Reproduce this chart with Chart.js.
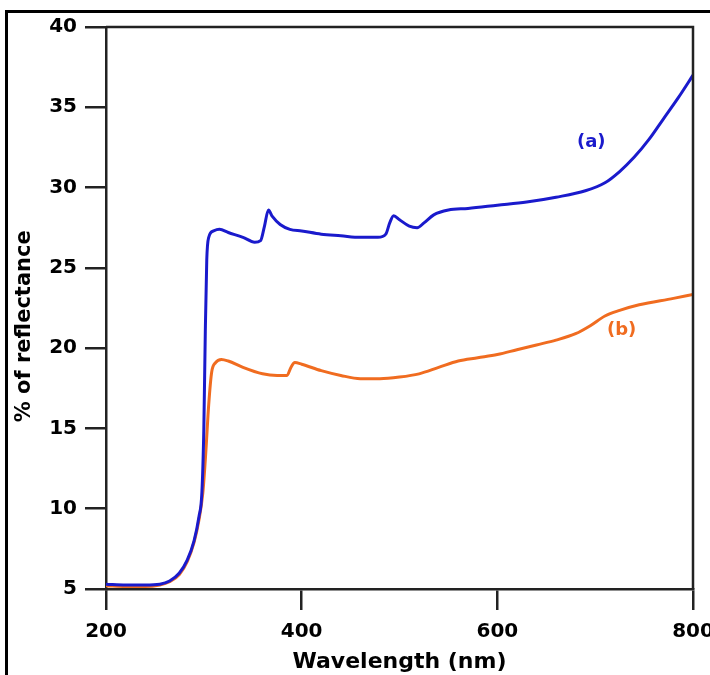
<!DOCTYPE html>
<html>
<head>
<meta charset="utf-8">
<script src="https://cdn.jsdelivr.net/npm/chart.js@4.4.1/dist/chart.umd.min.js"></script>
<style>
  html, body { margin: 0; padding: 0; background: #fff; }
  canvas { display: block; }
</style>
</head>
<body>
<canvas id="reflectance-chart" width="710" height="675"></canvas>
<script>
// sample (a)
const waveA = [200, 220, 240, 255, 265, 275, 283, 290, 295, 298, 300, 301.5, 303, 305, 310, 316, 325, 340, 352, 358, 362, 366, 370, 378, 388, 400, 420, 440, 460, 478, 486, 490, 494, 500, 510, 518, 525, 535, 550, 570, 600, 630, 660, 690, 710, 725, 740, 755, 770, 785, 800];
const reflA = [5.3, 5.25, 5.25, 5.3, 5.5, 6.0, 6.8, 8.0, 9.5, 11, 15, 21, 25.5, 26.9, 27.3, 27.4, 27.2, 26.9, 26.6, 26.7, 27.6, 28.6, 28.2, 27.7, 27.4, 27.3, 27.1, 27.0, 26.9, 26.9, 27.1, 27.8, 28.25, 28.0, 27.6, 27.5, 27.8, 28.3, 28.6, 28.7, 28.9, 29.1, 29.4, 29.8, 30.3, 31.0, 31.9, 33.0, 34.3, 35.6, 37.0];

// sample (b)
const waveB = [200, 220, 240, 255, 265, 275, 283, 290, 295, 299, 302, 305, 308, 312, 318, 325, 340, 360, 375, 385, 389, 393, 400, 420, 440, 460, 480, 500, 520, 540, 560, 580, 600, 620, 640, 660, 680, 695, 710, 725, 745, 780, 800];
const reflB = [5.2, 5.15, 5.15, 5.25, 5.45, 5.9, 6.7, 7.9, 9.3, 11, 13.5, 16.5, 18.5, 19.1, 19.3, 19.2, 18.8, 18.4, 18.3, 18.3, 18.8, 19.1, 19.0, 18.6, 18.3, 18.1, 18.1, 18.2, 18.4, 18.8, 19.2, 19.4, 19.6, 19.9, 20.2, 20.5, 20.9, 21.4, 22.0, 22.35, 22.7, 23.1, 23.35];

const curveLabels = ['(a)', '(b)'];
const curveLabelX = [696, 727];
const curveLabelY = [32.8, 21.1];

const blue = 'rgb(26, 26, 204)';
const orange = 'rgb(240, 108, 32)';
const labelColors = [blue, orange];

function toPoints(xs, ys) {
    return xs.map((x, i) => ({ x: x, y: ys[i] }));
}

// outer black frame + box round the plot + curve labels
const framePlugin = {
    id: 'framePlugin',
    beforeDraw(chart) {
        const ctx = chart.ctx;
        ctx.save();
        ctx.fillStyle = '#fff';
        ctx.fillRect(0, 0, chart.width, chart.height);
        ctx.strokeStyle = '#000';
        ctx.lineWidth = 3;
        ctx.strokeRect(6.5, 11.5, 900, 900);
        ctx.restore();
    },
    afterDatasetsDraw(chart) {
        const ctx = chart.ctx;
        const a = chart.chartArea;
        ctx.save();
        ctx.strokeStyle = '#222';
        ctx.lineWidth = 2.5;
        ctx.beginPath();
        ctx.moveTo(a.left, a.top);
        ctx.lineTo(a.right, a.top);
        ctx.lineTo(a.right, a.bottom);
        ctx.stroke();

        const xs = chart.scales.x;
        const ys = chart.scales.y;
        ctx.font = 'bold 18px "DejaVu Sans"';
        ctx.textAlign = 'center';
        ctx.textBaseline = 'middle';
        curveLabels.forEach((t, i) => {
            ctx.fillStyle = labelColors[i];
            ctx.fillText(t, xs.getPixelForValue(curveLabelX[i]), ys.getPixelForValue(curveLabelY[i]));
        });
        ctx.restore();
    }
};

const ctx = document.getElementById('reflectance-chart').getContext('2d');
const chart = new Chart(ctx, {
    type: 'line',
    data: {
        datasets: [{
            label: '(a)',
            data: toPoints(waveA, reflA),
            borderColor: blue,
            borderWidth: 3,
            pointRadius: 0,
            cubicInterpolationMode: 'monotone'
        }, {
            label: '(b)',
            data: toPoints(waveB, reflB),
            borderColor: orange,
            borderWidth: 3,
            pointRadius: 0,
            cubicInterpolationMode: 'monotone'
        }]
    },
    options: {
        responsive: false,
        animation: false,
        layout: { padding: { left: 0, top: 27, right: 17, bottom: 0 } },
        plugins: {
            legend: { display: false },
            tooltip: { enabled: false }
        },
        scales: {
            x: {
                type: 'linear',
                min: 200,
                max: 800,
                ticks: {
                    stepSize: 200,
                    color: '#000',
                    padding: 10,
                    maxRotation: 0,
                    font: { family: 'DejaVu Sans', size: 20, weight: 'bold' }
                },
                grid: {
                    drawOnChartArea: false,
                    color: '#222',
                    lineWidth: 2.5,
                    tickLength: 21
                },
                border: { display: true, color: '#222', width: 2.5 },
                title: {
                    display: true,
                    text: 'Wavelength (nm)',
                    color: '#000',
                    padding: { top: 0, bottom: 0 },
                    font: { family: 'DejaVu Sans', size: 22, weight: 'bold' }
                },
                afterFit: function(scale) {
                    scale.height = 86;
                    scale.paddingLeft = 0;
                    scale.paddingRight = 0;
                }
            },
            y: {
                min: 5,
                max: 40,
                ticks: {
                    stepSize: 5,
                    color: '#000',
                    padding: 8,
                    font: { family: 'DejaVu Sans', size: 20, weight: 'bold' }
                },
                grid: {
                    drawOnChartArea: false,
                    color: '#222',
                    lineWidth: 2.5,
                    tickLength: 21
                },
                border: { display: true, color: '#222', width: 2.5 },
                title: {
                    display: true,
                    // trailing spaces push the title a little lower, as in the original
                    text: '% of reflectance     ',
                    color: '#000',
                    padding: { top: 12, bottom: 0 },
                    font: { family: 'DejaVu Sans', size: 21, weight: 'bold' }
                },
                afterFit: function(scale) {
                    scale.width = 106;
                    scale.paddingTop = 0;
                    scale.paddingBottom = 0;
                }
            }
        }
    },
    plugins: [framePlugin]
});
</script>
</body>
</html>
